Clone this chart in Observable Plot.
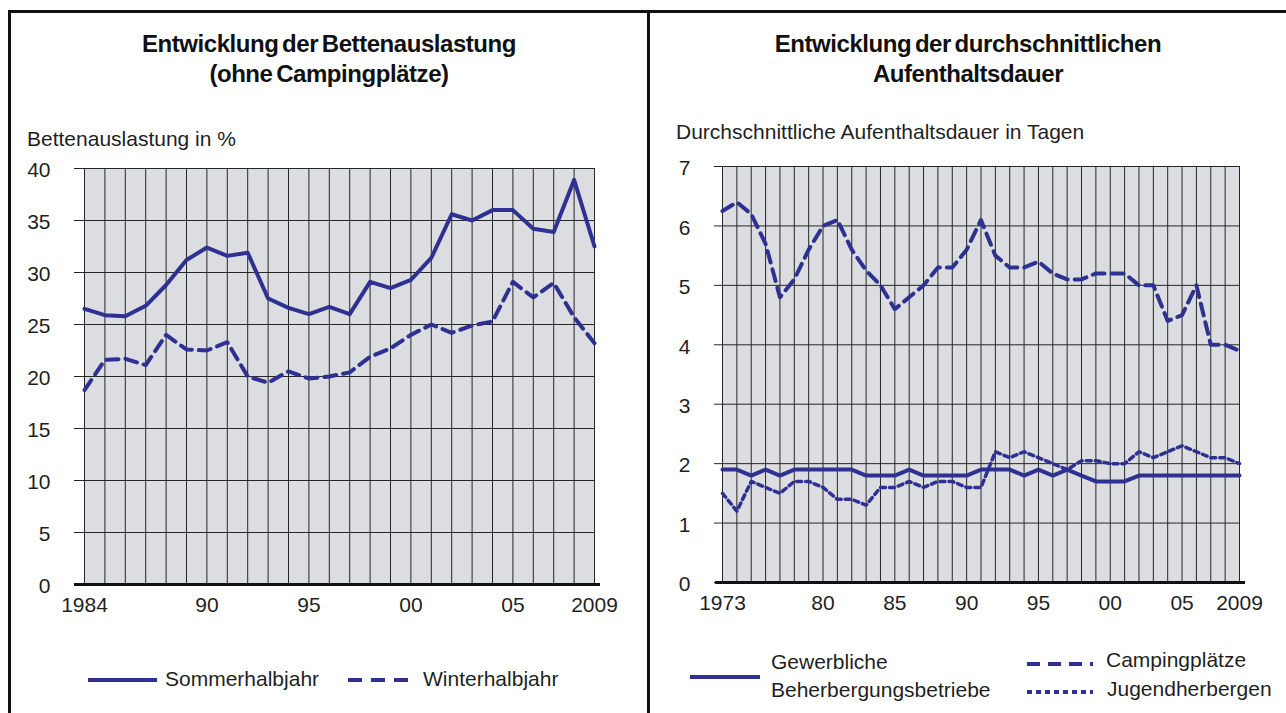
<!DOCTYPE html>
<html lang="de">
<head>
<meta charset="utf-8">
<script src="https://cdn.jsdelivr.net/npm/d3@7"></script>
<script src="https://cdn.jsdelivr.net/npm/@observablehq/plot@0.6"></script>
<style>
  html, body { margin: 0; padding: 0; background: #fff; }
  body { width: 1286px; height: 713px; position: relative; overflow: hidden;
         font-family: "Liberation Sans", Arial, sans-serif; color: #1f1f1f; }
  .abs { position: absolute; }
  .bar { position: absolute; background: #111; }
  .title { position: absolute; text-align: center; font-weight: bold; font-size: 24px;
           line-height: 30px; letter-spacing: -0.45px; word-spacing: -2.5px; color: #111; }
  .ylab { position: absolute; font-size: 21px; white-space: nowrap; }
  .leg { position: absolute; font-size: 21px; white-space: nowrap; line-height: 28px; }
  svg.sw { position: absolute; overflow: visible; }
</style>
</head>
<body>
<div class="bar" style="left:8px;top:10px;width:1278px;height:3px"></div>
<div class="bar" style="left:8px;top:10px;width:3px;height:703px"></div>
<div class="bar" style="left:647px;top:10px;width:3px;height:703px"></div>

<div class="title" style="left:11px;width:636px;top:29px">Entwicklung der Bettenauslastung<br>(ohne Campingplätze)</div>
<div class="title" style="left:650px;width:636px;top:29px">Entwicklung der durchschnittlichen<br>Aufenthaltsdauer</div>

<div class="ylab" style="left:27px;top:127px">Bettenauslastung in %</div>
<div class="ylab" style="left:676px;top:120px">Durchschnittliche Aufenthaltsdauer in Tagen</div>

<div id="left" class="abs" style="left:0px;top:150px"></div>
<div id="right" class="abs" style="left:648px;top:150px"></div>

<!-- legends -->
<svg class="sw" style="left:88px;top:670px" width="70" height="20"><line x1="0" y1="10" x2="69" y2="10" stroke="#2e3192" stroke-width="4"/></svg>
<div class="leg" style="left:165px;top:665px">Sommerhalbjahr</div>
<svg class="sw" style="left:348px;top:670px" width="70" height="20"><line x1="0" y1="10" x2="67" y2="10" stroke="#2e3192" stroke-width="4" stroke-dasharray="14,9"/></svg>
<div class="leg" style="left:423px;top:665px">Winterhalbjahr</div>

<svg class="sw" style="left:690px;top:667px" width="72" height="20"><line x1="0" y1="10" x2="70" y2="10" stroke="#2e3192" stroke-width="4"/></svg>
<div class="leg" style="left:771px;top:648px">Gewerbliche<br>Beherbergungsbetriebe</div>
<svg class="sw" style="left:1027px;top:654px" width="70" height="20"><line x1="0" y1="10" x2="66" y2="10" stroke="#2e3192" stroke-width="4" stroke-dasharray="13,8"/></svg>
<div class="leg" style="left:1106px;top:646px">Campingplätze</div>
<svg class="sw" style="left:1027px;top:682px" width="70" height="20"><line x1="0" y1="10" x2="66" y2="10" stroke="#2e3192" stroke-width="4" stroke-dasharray="5,4"/></svg>
<div class="leg" style="left:1107px;top:675px">Jugendherbergen</div>

<script>
// ---------- Left chart: Bettenauslastung ----------
const leftYears = [1984,1985,1986,1987,1988,1989,1990,1991,1992,1993,1994,1995,1996,
                   1997,1998,1999,2000,2001,2002,2003,2004,2005,2006,2007,2008,2009];
const sommerhalbjahr = [26.5,25.9,25.8,26.8,28.8,31.2,32.4,31.6,31.9,27.5,26.6,26.0,26.7,
                        26.0,29.1,28.5,29.3,31.4,35.6,35.0,36.0,36.0,34.2,33.9,38.9,32.5];
const winterhalbjahr = [18.7,21.6,21.7,21.1,24.0,22.6,22.5,23.3,20.0,19.4,20.5,19.8,20.0,
                        20.4,21.9,22.7,24.0,25.0,24.2,24.9,25.3,29.1,27.6,29.0,25.7,23.2];
const leftYTicks = [0,5,10,15,20,25,30,35,40];
const leftXTicks = [1984,1990,1995,2000,2005,2009];
const leftXLabels = ["1984","90","95","00","05","2009"];

// ---------- Right chart: Aufenthaltsdauer ----------
const rightYears = [1973,1974,1975,1976,1977,1978,1979,1980,1981,1982,1983,1984,1985,1986,
                    1987,1988,1989,1990,1991,1992,1993,1994,1995,1996,1997,1998,1999,2000,
                    2001,2002,2003,2004,2005,2006,2007,2008,2009];
const gewerbliche = [1.9,1.9,1.8,1.9,1.8,1.9,1.9,1.9,1.9,1.9,1.8,1.8,1.8,1.9,
                     1.8,1.8,1.8,1.8,1.9,1.9,1.9,1.8,1.9,1.8,1.9,1.8,1.7,1.7,
                     1.7,1.8,1.8,1.8,1.8,1.8,1.8,1.8,1.8];
const campingplaetze = [6.25,6.4,6.2,5.7,4.8,5.1,5.6,6.0,6.1,5.6,5.25,5.0,4.6,4.8,
                        5.0,5.3,5.3,5.6,6.1,5.5,5.3,5.3,5.4,5.2,5.1,5.1,5.2,5.2,
                        5.2,5.0,5.0,4.4,4.5,5.0,4.0,4.0,3.9];
const jugendherbergen = [1.5,1.2,1.7,1.6,1.5,1.7,1.7,1.6,1.4,1.4,1.3,1.6,1.6,1.7,
                         1.6,1.7,1.7,1.6,1.6,2.2,2.1,2.2,2.1,2.0,1.9,2.05,2.05,2.0,
                         2.0,2.2,2.1,2.2,2.3,2.2,2.1,2.1,2.0];
const rightYTicks = [0,1,2,3,4,5,6,7];
const rightXTicks = [1973,1980,1985,1990,1995,2000,2005,2009];
const rightXLabels = ["1973","80","85","90","95","00","05","2009"];

const BLUE = "#2e3192";
const GRID = "#262626";
const BG = "#dcdde0";
const FONT = "'Liberation Sans', Arial, sans-serif";

const leftData = leftYears.map((year, i) => ({year, sommer: sommerhalbjahr[i], winter: winterhalbjahr[i]}));
const rightData = rightYears.map((year, i) => ({year, gew: gewerbliche[i], camp: campingplaetze[i], jug: jugendherbergen[i]}));

const style = {fontFamily: FONT, fontSize: "21px", color: "#1f1f1f", background: "transparent", overflow: "visible"};

const leftChart = Plot.plot({
  width: 620, height: 470,
  marginLeft: 84, marginRight: 26, marginTop: 18, marginBottom: 36,
  style,
  x: {domain: [1984, 2009]},
  y: {domain: [0, 40]},
  marks: [
    Plot.frame({fill: BG, stroke: null}),
    Plot.ruleX(leftYears, {stroke: GRID, strokeWidth: 1}),
    Plot.ruleY(leftYTicks, {stroke: GRID, strokeWidth: 1, insetLeft: -10}),
    Plot.axisY({ticks: leftYTicks, tickFormat: d => String(d), tickSize: 0, tickPadding: 34, dy: 2, label: null}),
    Plot.axisX({ticks: leftXTicks, tickFormat: d => leftXLabels[leftXTicks.indexOf(d)], tickSize: 0, tickPadding: 13, label: null}),
    Plot.ruleY([0], {stroke: "#111", strokeWidth: 3, insetLeft: -10, insetRight: -6}),
    Plot.line(leftData, {x: "year", y: "winter", stroke: BLUE, strokeWidth: 4, strokeDasharray: "12,7"}),
    Plot.line(leftData, {x: "year", y: "sommer", stroke: BLUE, strokeWidth: 4})
  ]
});
document.getElementById("left").append(leftChart);

const rightChart = Plot.plot({
  width: 620, height: 470,
  marginLeft: 74, marginRight: 29, marginTop: 16, marginBottom: 38,
  style,
  x: {domain: [1973, 2009]},
  y: {domain: [0, 7]},
  marks: [
    Plot.frame({fill: BG, stroke: null}),
    Plot.ruleX(rightYears, {stroke: GRID, strokeWidth: 1}),
    Plot.ruleY(rightYTicks, {stroke: GRID, strokeWidth: 1, insetLeft: -8}),
    Plot.axisY({ticks: rightYTicks, tickFormat: d => String(d), tickSize: 0, tickPadding: 32, dy: 2, label: null}),
    Plot.axisX({ticks: rightXTicks, tickFormat: d => rightXLabels[rightXTicks.indexOf(d)], tickSize: 0, tickPadding: 13, label: null}),
    Plot.ruleY([0], {stroke: "#111", strokeWidth: 3, insetLeft: -7, insetRight: -6}),
    Plot.line(rightData, {x: "year", y: "camp", stroke: BLUE, strokeWidth: 4, strokeDasharray: "12,7"}),
    Plot.line(rightData, {x: "year", y: "gew", stroke: BLUE, strokeWidth: 4}),
    Plot.line(rightData, {x: "year", y: "jug", stroke: BLUE, strokeWidth: 3.5, strokeDasharray: "5,4"})
  ]
});
document.getElementById("right").append(rightChart);
</script>
</body>
</html>
